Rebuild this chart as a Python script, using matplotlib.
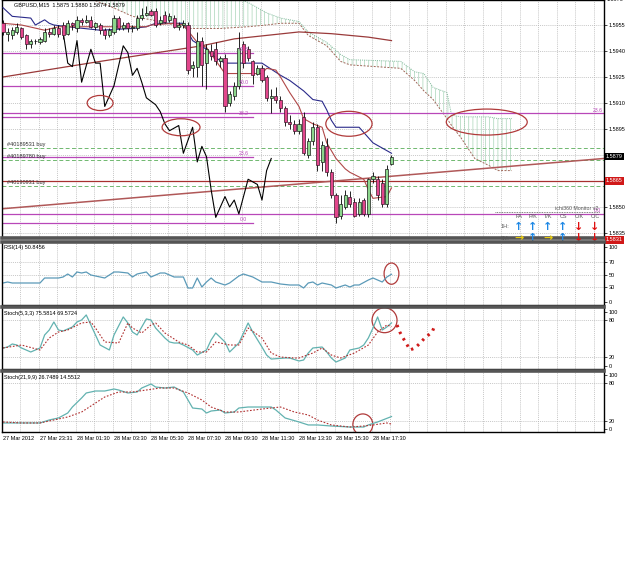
import numpy as np
import matplotlib
matplotlib.use('Agg')
import matplotlib.pyplot as plt
from matplotlib.patches import Ellipse

plt.rcParams['font.family'] = ['Liberation Sans', 'DejaVu Sans']
plt.rcParams['hatch.linewidth'] = 0.45

# GBPUSD M15 candles (bar 0 = 27 Mar 21:30)
open_ = [1.5956, 1.5950, 1.5949, 1.5951, 1.5953, 1.5949, 1.5944, 1.5946, 1.5945, 1.5946,
         1.5951, 1.5950, 1.5953, 1.5955, 1.5950, 1.5956, 1.5953, 1.5958, 1.5957, 1.5958,
         1.5954, 1.5955, 1.5952, 1.5949, 1.5951, 1.5959, 1.5953, 1.5956, 1.5953, 1.5953,
         1.5959, 1.5961, 1.5963, 1.5963, 1.5956, 1.5961, 1.5958, 1.5959, 1.5954, 1.5955,
         1.5955, 1.5930, 1.5931, 1.5946, 1.5933, 1.5940, 1.5941, 1.5934, 1.5936, 1.5910,
         1.5914, 1.5920, 1.5944, 1.5941, 1.5934, 1.5927, 1.5930, 1.5925, 1.5913, 1.5914,
         1.5912, 1.5907, 1.5899, 1.5898, 1.5894, 1.5902, 1.5880, 1.5888, 1.5896, 1.5876,
         1.5885, 1.5870, 1.5857, 1.5845, 1.5850, 1.5856, 1.5853, 1.5846, 1.5854, 1.5846,
         1.5866, 1.5866, 1.5864, 1.5852, 1.5875]
close = [1.5951, 1.5951, 1.5952, 1.5954, 1.5948, 1.5944, 1.5946, 1.5946, 1.5947, 1.5951,
         1.5950, 1.5953, 1.5950, 1.5949, 1.5956, 1.5955, 1.5958, 1.5957, 1.5958, 1.5954,
         1.5956, 1.5952, 1.5949, 1.5952, 1.5959, 1.5953, 1.5955, 1.5953, 1.5954, 1.5959,
         1.5961, 1.5962, 1.5961, 1.5955, 1.5958, 1.5957, 1.5960, 1.5954, 1.5955, 1.5956,
         1.5929, 1.5932, 1.5946, 1.5932, 1.5941, 1.5937, 1.5934, 1.5936, 1.5908, 1.5915,
         1.5920, 1.5942, 1.5933, 1.5936, 1.5926, 1.5930, 1.5923, 1.5913, 1.5914, 1.5912,
         1.5907, 1.5899, 1.5898, 1.5894, 1.5898, 1.5881, 1.5888, 1.5896, 1.5874, 1.5886,
         1.5870, 1.5857, 1.5844, 1.5852, 1.5857, 1.5852, 1.5845, 1.5853, 1.5846, 1.5866,
         1.5868, 1.5857, 1.5852, 1.5872, 1.5879]
high = [1.5958, 1.5953, 1.5954, 1.5956, 1.5954, 1.5950, 1.5947, 1.5947, 1.5948, 1.5953,
        1.5953, 1.5955, 1.5955, 1.5957, 1.5958, 1.5957, 1.5960, 1.5959, 1.5961, 1.5960,
        1.5957, 1.5956, 1.5953, 1.5953, 1.5961, 1.5960, 1.5957, 1.5957, 1.5955, 1.5961,
        1.5965, 1.5966, 1.5964, 1.5965, 1.5960, 1.5963, 1.5962, 1.5961, 1.5957, 1.5958,
        1.5957, 1.5934, 1.5951, 1.5948, 1.5944, 1.5944, 1.5945, 1.5937, 1.5938, 1.5917,
        1.5922, 1.5951, 1.5946, 1.5943, 1.5935, 1.5932, 1.5932, 1.5926, 1.5918, 1.5919,
        1.5914, 1.5908, 1.5903, 1.5900, 1.5901, 1.5905, 1.5890, 1.5899, 1.5898, 1.5888,
        1.5890, 1.5872, 1.5858, 1.5857, 1.5860, 1.5859, 1.5855, 1.5855, 1.5855, 1.5867,
        1.5870, 1.5868, 1.5866, 1.5874, 1.5880]
low = [1.5949, 1.5946, 1.5947, 1.5950, 1.5947, 1.5941, 1.5942, 1.5944, 1.5944, 1.5945,
       1.5948, 1.5949, 1.5948, 1.5947, 1.5949, 1.5952, 1.5951, 1.5955, 1.5956, 1.5953,
       1.5952, 1.5950, 1.5947, 1.5948, 1.5950, 1.5952, 1.5952, 1.5951, 1.5951, 1.5952,
       1.5958, 1.5960, 1.5960, 1.5954, 1.5955, 1.5956, 1.5957, 1.5953, 1.5952, 1.5953,
       1.5927, 1.5925, 1.5925, 1.5920, 1.5918, 1.5935, 1.5932, 1.5931, 1.5905, 1.5908,
       1.5912, 1.5918, 1.5930, 1.5934, 1.5921, 1.5926, 1.5922, 1.5911, 1.5904, 1.5910,
       1.5905, 1.5897, 1.5895, 1.5892, 1.5892, 1.5880, 1.5878, 1.5886, 1.5871, 1.5871,
       1.5868, 1.5855, 1.5841, 1.5843, 1.5849, 1.5850, 1.5844, 1.5845, 1.5845, 1.5844,
       1.5864, 1.5854, 1.5850, 1.5850, 1.5874]

# Ichimoku lines
kijun_bars = [0, 2, 6, 7, 9, 10, 11, 14, 21, 28, 31, 33, 39, 41, 44, 46, 48, 56, 60, 62,
              65, 67, 69, 70, 71, 72, 77, 78, 80, 82, 84]
kijun = [1.5965, 1.5960, 1.5959, 1.5955, 1.5958, 1.5956, 1.5955, 1.5954, 1.5952, 1.5953,
         1.5954, 1.5956, 1.5956, 1.5946, 1.5941, 1.5936, 1.5933, 1.5933, 1.5926, 1.5923,
         1.5917, 1.5912, 1.5911, 1.5906, 1.5900, 1.5896, 1.5896, 1.5893, 1.5887, 1.5884, 1.5881]
tenkan_bars = [0, 4, 9, 12, 21, 31, 32, 37, 39, 42, 44, 48, 56, 57, 59, 60, 62, 64, 65, 67,
               69, 70, 72, 74, 75, 78, 79, 80, 83, 84]
tenkan = [1.5956, 1.5955, 1.5952, 1.5954, 1.5954, 1.5954, 1.5955, 1.5956, 1.5955, 1.5945,
          1.5942, 1.5927, 1.5927, 1.5930, 1.5929, 1.5925, 1.5916, 1.5908, 1.5901, 1.5898,
          1.5896, 1.5887, 1.5878, 1.5872, 1.5870, 1.5866, 1.5860, 1.5855, 1.5856, 1.5861]
chikou_bars = [13, 14, 15, 16, 17, 19, 20, 21, 22, 24, 26, 27, 28, 29, 30, 31, 33, 34, 35, 36,
               38, 39, 41, 42, 43, 44, 45, 46, 48, 49, 50, 51, 53, 55, 56, 57, 58]
chikou = [1.5951, 1.5933, 1.5931, 1.5946, 1.5922, 1.5941, 1.5933, 1.5933, 1.5908, 1.5920,
          1.5943, 1.5939, 1.5926, 1.5930, 1.5922, 1.5913, 1.5909, 1.5905, 1.5898, 1.5894,
          1.5897, 1.5881, 1.5896, 1.5876, 1.5885, 1.5879, 1.5860, 1.5844, 1.5856, 1.5850,
          1.5854, 1.5846, 1.5866, 1.5863, 1.5854, 1.5871, 1.5878]
cloud_bars = [20, 23, 28, 34, 40, 47, 53, 57, 60, 64, 66, 70, 73, 75, 86, 89, 91, 93, 96, 97,
              99, 102, 105, 107, 110]
span_b = [1.5987, 1.5984, 1.5981, 1.5978, 1.5976, 1.5974, 1.5968, 1.5962, 1.5959, 1.5957,
          1.5951, 1.5945, 1.5938, 1.5935, 1.5934, 1.5928, 1.5927, 1.5919, 1.5916, 1.5903,
          1.5902, 1.5902, 1.5902, 1.5901, 1.5901]
span_a = [1.5969, 1.5966, 1.5960, 1.5957, 1.5953, 1.5953, 1.5954, 1.5955, 1.5956, 1.5956,
          1.5949, 1.5943, 1.5934, 1.5932, 1.5930, 1.5923, 1.5917, 1.5912, 1.5901, 1.5897,
          1.5890, 1.5878, 1.5874, 1.5871, 1.5871]
ma_bars = [0, 21, 43, 50, 57, 64, 71, 79, 84]
ma_long = [1.5925, 1.5934, 1.5943, 1.5947, 1.5949, 1.5951, 1.5950, 1.5948, 1.5946]
trend_bars = [0, 130]
trend = [1.5849, 1.5878]

fib_left = [1.5939, 1.5920, 1.5902, 1.5879, 1.5841]
fib_left_labels = ['61.8', '50.0', '38.2', '23.6', '0.0']
fib_right = [1.5904, 1.5846]
fib_right_labels = ['23.6', '0.0']
orders = [1.5884, 1.5877, 1.5862]
order_labels = ['#40189531 buy', '#40189780 buy', '#40190931 buy']
red_level = 1.5865

price_ticks = [1.5955, 1.5940, 1.5925, 1.5910, 1.5895, 1.5850, 1.5835]
grid_prices = [1.5955, 1.5940, 1.5925, 1.5910, 1.5895, 1.5880, 1.5865, 1.5850, 1.5835]

# RSI(14)
rsi_bars = [0, 1, 2, 8, 9, 10, 12, 13, 14, 15, 16, 17, 18, 19, 21, 22, 24, 25, 27, 28, 29, 31,
            32, 34, 35, 37, 39, 40, 41, 42, 43, 44, 45, 46, 48, 49, 51, 52, 54, 56, 58, 60,
            62, 64, 65, 66, 67, 68, 69, 71, 72, 74, 75, 76, 77, 79, 80, 81, 82, 83, 84]
rsi = [36.8, 38.4, 36.8, 36.8, 44.8, 44.8, 44.8, 46.4, 51.2, 46.4, 54.4, 52.8, 54.4, 49.6,
       46.4, 44.8, 54.4, 54.4, 52.8, 46.4, 51.2, 54.4, 46.4, 52.8, 52.8, 46.4, 46.4, 28.8,
       28.8, 44.8, 30.4, 38.4, 44.8, 38.4, 33.6, 36.8, 48.0, 51.2, 46.4, 38.4, 38.4, 35.2,
       33.6, 33.6, 28.8, 36.8, 38.4, 33.6, 36.8, 33.6, 28.8, 33.6, 30.4, 33.6, 33.6, 41.6,
       44.8, 41.6, 38.4, 46.4, 50.8]

# Stoch(5,3,3)
st_bars = [0, 1, 2, 3, 4, 6, 7, 8, 9, 10, 11, 12, 13, 14, 15, 16, 17, 18, 19, 20, 21, 23, 24,
           26, 27, 28, 29, 30, 31, 32, 33, 35, 36, 37, 38, 39, 41, 42, 44, 45, 46, 48, 49, 51,
           53, 54, 56, 57, 58, 61, 62, 64, 65, 66, 67, 69, 70, 71, 72, 74, 75, 77, 78, 79, 80,
           81, 82, 83, 84]
st_main = [34.3, 35.9, 40.9, 39.2, 34.3, 27.7, 31.0, 34.3, 55.7, 63.9, 77.1, 63.9, 62.3, 65.6,
           68.9, 77.1, 80.4, 88.7, 72.2, 55.7, 39.2, 31.0, 55.7, 85.4, 75.5, 60.6, 55.7, 68.9,
           82.1, 80.4, 67.2, 50.8, 44.2, 42.5, 42.5, 39.2, 31.0, 22.7, 31.0, 47.5, 59.0, 44.2,
           27.7, 42.5, 75.5, 60.6, 35.9, 22.7, 16.1, 17.8, 17.8, 12.9, 14.5, 26.0, 34.3, 35.9,
           27.7, 17.8, 11.2, 17.8, 31.0, 34.3, 39.2, 50.8, 67.2, 85.4, 63.9, 68.9, 75.6]
st_sig_bars = [0, 4, 8, 10, 12, 14, 17, 19, 20, 22, 25, 27, 28, 30, 32, 33, 35, 38, 40, 42, 44,
               46, 49, 51, 53, 56, 58, 60, 63, 64, 67, 69, 71, 73, 76, 79, 81, 83, 84]
st_sig = [34.3, 39.2, 31.0, 50.8, 60.6, 63.9, 75.5, 77.1, 67.2, 44.2, 42.5, 75.5, 67.2, 59.0,
          72.2, 75.5, 59.0, 44.2, 39.2, 27.7, 27.7, 44.2, 39.2, 39.2, 67.2, 50.8, 26.0, 19.4,
          17.8, 17.8, 26.0, 34.3, 22.7, 17.8, 26.0, 39.2, 60.6, 72.2, 69.6]
proj_bars = [85.2, 85.8, 86.5, 87.4, 88.0, 89.1, 90.2, 91.2, 92.8, 93.4]
proj = [72.2, 60.6, 50.8, 39.2, 31.0, 34.3, 42.5, 50.8, 60.6, 72.2]

# Stoch(21,9,9)
st2_bars = [0, 2, 5, 8, 10, 12, 14, 15, 17, 18, 20, 22, 24, 25, 27, 29, 30, 32, 33, 35, 37, 39,
            40, 41, 43, 44, 45, 47, 48, 50, 51, 53, 56, 58, 59, 61, 64, 66, 68, 71, 75, 78, 79,
            81, 84]
st2_main = [16.4, 16.4, 16.4, 16.4, 21.2, 24.4, 32.4, 42.0, 56.5, 64.5, 67.7, 67.7, 70.9, 69.3,
            64.5, 66.1, 72.5, 78.9, 74.1, 72.5, 74.1, 66.1, 53.3, 40.4, 38.8, 32.4, 35.6, 37.2,
            32.4, 34.0, 40.4, 42.0, 42.0, 42.0, 37.2, 24.4, 18.0, 13.2, 13.2, 11.5, 9.9, 9.9,
            13.2, 18.0, 26.7]
st2_sig_bars = [0, 4, 8, 11, 14, 17, 20, 22, 25, 28, 31, 34, 37, 40, 43, 45, 48, 51, 56, 60, 63,
                66, 68, 71, 75, 78, 80, 83, 84]
st2_sig = [18.0, 16.4, 16.4, 21.2, 26.0, 34.0, 48.4, 58.1, 66.1, 66.1, 69.3, 72.5, 72.5, 64.5,
           53.3, 42.0, 34.0, 34.0, 38.8, 42.0, 34.0, 29.2, 21.2, 13.2, 9.9, 11.5, 13.2, 16.4, 14.6]

date_bars = [0, 8, 16, 24, 32, 40, 48, 56, 64, 72, 80]
date_labels = ['27 Mar 2012', '27 Mar 23:31', '28 Mar 01:30', '28 Mar 03:30', '28 Mar 05:30',
               '28 Mar 07:30', '28 Mar 09:30', '28 Mar 11:30', '28 Mar 13:30', '28 Mar 15:30',
               '28 Mar 17:30']

# hand drawn circles: (bar, value, width in bars, height in value units)
main_circles = [(21, 1.5910, 5.6, 0.00087), (38.5, 1.5896, 8.2, 0.00098),
                (74.8, 1.5898, 10.0, 0.00144), (104.6, 1.5899, 17.5, 0.0015)]
rsi_circle = (84, 51.8, 3.2, 34)
st_circle = (82.5, 80, 5.4, 41)
st2_circle = (77.8, 13.9, 4.3, 34)

FS = 4.0
GRID = '#b4b4b4'
CIRC = '#b03a3a'
PURPLE = '#b847b8'

W, H = 625, 568
fig = plt.figure(figsize=(W / 100, H / 100), dpi=100)


def rect(x0, y0, x1, y1):
    return [x0 / W, 1 - y1 / H, (x1 - x0) / W, (y1 - y0) / H]


ax = fig.add_axes(rect(2, 0, 604, 238))
ax_rsi = fig.add_axes(rect(2, 242, 604, 305))
ax_st = fig.add_axes(rect(2, 307, 604, 369))
ax_st2 = fig.add_axes(rect(2, 371, 604, 432))
axes = [ax, ax_rsi, ax_st, ax_st2]

for a in axes:
    a.set_xlim(-0.216, 129.95)
    for x in np.arange(3.7, 130, 4):
        a.axvline(x, color=GRID, lw=0.5, ls=(0, (1.5, 1.5)), zorder=0)
    for s in a.spines.values():
        s.set_color('black')
        s.set_linewidth(1.0)
    a.yaxis.tick_right()
    a.tick_params(axis='y', labelsize=FS, length=2, pad=1.5, width=0.5)
    a.tick_params(axis='x', length=0)
    a.set_xticks([])
for a in axes[1:]:
    a.spines['top'].set_linewidth(2.6)
    a.spines['top'].set_color('#555555')
ax.spines['bottom'].set_linewidth(2.6)
ax.spines['bottom'].set_color('#555555')

# ---- main price window ----
ax.set_ylim(1.58321, 1.596943)
for p in grid_prices:
    ax.axhline(p, color=GRID, lw=0.5, ls=(0, (1.5, 1.5)), zorder=0)
ax.set_yticks(price_ticks)
ax.set_yticklabels(['%.4f' % p for p in price_ticks])
ax.text(1.005, 1.5970, '1.5970', transform=ax.get_yaxis_transform(), fontsize=FS,
        va='center', ha='left', clip_on=False)

# cloud
ax.fill_between(cloud_bars, span_a, span_b, facecolor='none', edgecolor='#9fd0b0',
                hatch='||||', lw=0, zorder=1)
ax.plot(cloud_bars, span_b, color='#7fb89a', lw=0.7, ls=(0, (1, 1.2)), zorder=2)
ax.plot(cloud_bars, span_a, color='#a0685a', lw=0.7, ls=(0, (2, 1.5)), zorder=2)

# levels
for p in fib_left:
    ax.plot([-0.216, 54], [p, p], color=PURPLE, lw=0.9, zorder=2)
for p, t in zip(fib_left, fib_left_labels):
    ax.text(52, p + 0.00004, t, color=PURPLE, fontsize=FS - 0.3, ha='center', va='bottom', zorder=6)
for p, t in zip(fib_right, fib_right_labels):
    ax.axhline(p, color=PURPLE, lw=0.9, zorder=2)
    ax.text(128.5, p + 0.00004, t, color=PURPLE, fontsize=FS - 0.3, ha='center', va='bottom', zorder=6)
for p, t in zip(orders, order_labels):
    ax.axhline(p, color='#6fb86f', lw=0.7, ls=(0, (4, 2.5)), zorder=2)
    ax.text(0.8, p + 0.00004, t, color='#303030', fontsize=FS, ha='left', va='bottom', zorder=6)
ax.axhline(red_level, color='#a83030', lw=0.9, zorder=2)
ax.plot(trend_bars, trend, color='#b05858', lw=1.1, zorder=2)
ax.plot(ma_bars, ma_long, color='#9a3a3a', lw=0.9, zorder=2)

# ichimoku lines
ax.plot(kijun_bars, kijun, color='#2a2a8a', lw=0.8, zorder=3)
ax.plot(tenkan_bars, tenkan, color='#b04848', lw=0.8, zorder=3)
ax.plot(chikou_bars, chikou, color='black', lw=0.8, zorder=3)

# candles
o = np.array(open_)
c = np.array(close)
hi = np.array(high)
lo = np.array(low)
bars = np.arange(len(c))
up = c >= o
bottom = np.minimum(o, c)
height = np.abs(c - o)
ax.vlines(bars, lo, hi, color='black', lw=0.6, zorder=4)
ax.bar(bars[up], height[up], bottom=bottom[up], width=0.66, color='#8cd68c',
       edgecolor='#1a1a1a', lw=0.5, zorder=5)
ax.bar(bars[~up], height[~up], bottom=bottom[~up], width=0.66, color='#e2468c',
       edgecolor='#3a1a2a', lw=0.5, zorder=5)

for bx, by, bw, bh in main_circles:
    ax.add_patch(Ellipse((bx, by), bw, bh, fill=False, edgecolor=CIRC, lw=0.9, zorder=7))

# title
ax.text(12 / 602, 1 - 4.5 / 238, 'GBPUSD,M15  1.5875 1.5880 1.5874 1.5879', transform=ax.transAxes,
        fontsize=FS, ha='left', va='center', zorder=8)

# price tags
ytr = ax.get_yaxis_transform()
for p, fc in [(1.5879, 'black'), (1.5865, '#d01818'), (1.5831, '#d01818')]:
    ax.text(1.003, p, '%.4f' % p, transform=ytr, fontsize=FS, color='white', ha='left', va='center',
            clip_on=False, zorder=9,
            bbox=dict(boxstyle='square,pad=0.2', facecolor=fc, edgecolor='none'))

# ichi360 monitor panel
ftr = ax.transAxes


def fx(px):
    return (px - 2) / 602


def fy(py):
    return 1 - py / 238


ax.plot([fx(495), fx(600)], [fy(212), fy(212)], transform=ftr, color='#555555', lw=0.6,
        ls=(0, (1, 1)), zorder=6)
ax.text(fx(555), fy(208), 'ichi360 Monitor v2', transform=ftr, fontsize=FS - 0.2,
        color='#555555', ha='left', va='center', zorder=6)
cols = ['PA', 'P/K', 'T/K', 'CS', 'C/K', 'C/C']
col_x = [519, 533, 548, 563, 579, 595]
row_1h = [('↑', '#1e88e5'), ('↑', '#1e88e5'), ('↑', '#1e88e5'), ('↑', '#1e88e5'),
          ('↓', '#e01010'), ('↓', '#e01010')]
row_5m = [('→', '#e8cc10'), ('↑', '#1e88e5'), ('→', '#e8cc10'), ('↑', '#1e88e5'),
          ('↓', '#e01010'), ('↓', '#e01010')]
for name, x in zip(cols, col_x):
    ax.text(fx(x), fy(216), name, transform=ftr, fontsize=FS, color='#555555',
            ha='center', va='center', zorder=6)
ax.text(fx(505), fy(227), '1H:', transform=ftr, fontsize=FS, color='#555555',
        ha='center', va='center', zorder=6)
ax.text(fx(505), fy(238), '5M:', transform=ftr, fontsize=FS, color='#555555',
        ha='center', va='center', zorder=8, clip_on=False)
for (s1, c1), (s2, c2), x in zip(row_1h, row_5m, col_x):
    ax.text(fx(x), fy(227), s1, transform=ftr, fontsize=8, color=c1, fontweight='bold',
            ha='center', va='center', zorder=6, family=['DejaVu Sans'])
    ax.text(fx(x), fy(238), s2, transform=ftr, fontsize=8, color=c2, fontweight='bold',
            ha='center', va='center', zorder=8, clip_on=False, family=['DejaVu Sans'])

# ---- RSI ----
ax_rsi.set_ylim(1.6, 102.4)
for lv in [70, 50, 30]:
    ax_rsi.axhline(lv, color=GRID, lw=0.5, ls=(0, (1.5, 1.5)), zorder=0)
ax_rsi.plot(rsi_bars, rsi, color='#5b9ab8', lw=0.9)
ax_rsi.set_yticks([94.4, 70, 50, 30, 6.4])
ax_rsi.set_yticklabels(['100', '70', '50', '30', '0'])
ax_rsi.text(2 / 602, 1 - 6 / 63, 'RSI(14) 50.8456', transform=ax_rsi.transAxes, fontsize=FS,
            ha='left', va='center')
ax_rsi.add_patch(Ellipse(rsi_circle[:2], rsi_circle[2], rsi_circle[3], fill=False,
                         edgecolor=CIRC, lw=0.9))

# ---- Stoch(5,3,3) ----
ax_st.set_ylim(-0.3, 101.8)
for lv in [80, 20]:
    ax_st.axhline(lv, color=GRID, lw=0.5, ls=(0, (1.5, 1.5)), zorder=0)
ax_st.plot(st_bars, st_main, color='#62b2b0', lw=0.9)
ax_st.plot(st_sig_bars, st_sig, color='#b03030', lw=0.8, ls=(0, (1.5, 1.5)))
ax_st.plot(proj_bars, proj, color='#d01c1c', lw=2.2, ls=(0, (0.8, 1.6)))
ax_st.set_yticks([94.1, 80, 20, 5.1])
ax_st.set_yticklabels(['100', '80', '20', '0'])
ax_st.text(2 / 602, 1 - 6 / 62, 'Stoch(5,3,3) 75.5814 69.5724', transform=ax_st.transAxes,
           fontsize=FS, ha='left', va='center')
ax_st.add_patch(Ellipse(st_circle[:2], st_circle[2], st_circle[3], fill=False,
                        edgecolor=CIRC, lw=0.9))

# ---- Stoch(21,9,9) ----
ax_st2.set_ylim(1.9, 99.8)
for lv in [80, 20]:
    ax_st2.axhline(lv, color=GRID, lw=0.5, ls=(0, (1.5, 1.5)), zorder=0)
ax_st2.plot(st2_bars, st2_main, color='#62b2b0', lw=0.9)
ax_st2.plot(st2_sig_bars, st2_sig, color='#b03030', lw=0.8, ls=(0, (1.5, 1.5)))
ax_st2.set_yticks([93.4, 80, 20, 6.7])
ax_st2.set_yticklabels(['100', '80', '20', '0'])
ax_st2.text(2 / 602, 1 - 6 / 61, 'Stoch(21,9,9) 26.7489 14.5512', transform=ax_st2.transAxes,
            fontsize=FS, ha='left', va='center')
ax_st2.add_patch(Ellipse(st2_circle[:2], st2_circle[2], st2_circle[3], fill=False,
                         edgecolor=CIRC, lw=0.9))
ax_st2.set_xticks(date_bars)
ax_st2.set_xticklabels(date_labels, fontsize=FS, ha='left')
ax_st2.tick_params(axis='x', length=0, pad=3)

fig.savefig('out.png', dpi=100)
